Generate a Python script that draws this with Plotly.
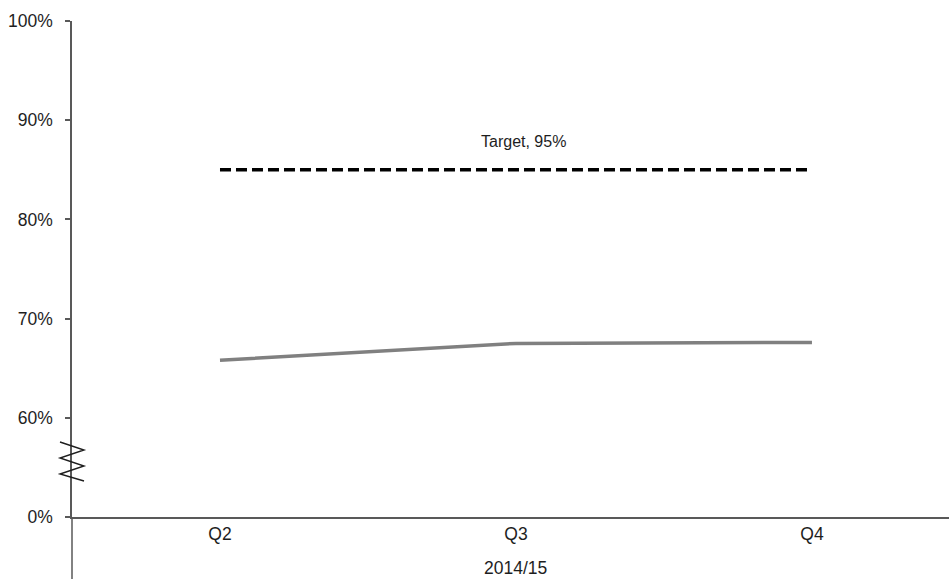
import plotly.graph_objects as go

# Quarterly performance, 2014/15
quarters = ["Q2", "Q3", "Q4"]
performance = [65.8, 67.5, 67.6]
target_level = [85, 85, 85]
target_label = "Target, 95%"
period_label = "2014/15"

# Broken value axis: the bottom tick stands for 0%
tick_vals = [50, 60, 70, 80, 90, 100]
tick_text = ["0%", "60%", "70%", "80%", "90%", "100%"]

FONT = "Liberation Sans, Arial, sans-serif"
TEXT = "#1e1e1e"
AXIS = "#595959"

fig = go.Figure()

fig.add_trace(go.Scatter(
    x=quarters, y=target_level, mode="lines",
    line=dict(color="#000000", width=3.5, dash="11px,5px"),
    hoverinfo="skip", showlegend=False,
))

fig.add_trace(go.Scatter(
    x=quarters, y=performance, mode="lines",
    line=dict(color="#808080", width=3.5),
    showlegend=False,
))

fig.add_annotation(
    x=quarters[1], y=target_level[1], xref="x", yref="y",
    text=target_label, showarrow=False,
    xshift=8, yshift=28, yanchor="middle",
    font=dict(family=FONT, size=16, color=TEXT),
)

fig.add_annotation(
    x=quarters[1], y=0, xref="x", yref="paper",
    text=period_label, showarrow=False,
    yshift=-51, yanchor="middle",
    font=dict(family=FONT, size=17.5, color=TEXT),
)

# Vertical axis continues below the category axis
fig.add_shape(
    type="line", xref="paper", yref="paper",
    x0=0, x1=0, y0=0, y1=-0.14,
    line=dict(color=AXIS, width=1.5),
)

# Zigzag marking the axis break
fig.add_shape(
    type="path", xref="paper", yref="paper",
    xsizemode="pixel", ysizemode="pixel", xanchor=0, yanchor=0,
    path="M -12,75 L 12,67 L -12,59 L 12,51 L -12,43 L 12,36",
    line=dict(color="#1e1e1e", width=1.4),
)

fig.update_xaxes(
    range=[-0.5, 2.463],
    showline=True, linecolor=AXIS, linewidth=1.5,
    showgrid=False, zeroline=False, ticks="",
    tickfont=dict(family=FONT, size=17.5, color=TEXT),
)

fig.update_yaxes(
    range=[50, 100],
    tickvals=tick_vals, ticktext=tick_text,
    showline=True, linecolor=AXIS, linewidth=1.5,
    ticks="outside", ticklen=5, tickcolor=AXIS, tickwidth=1.5,
    ticklabelstandoff=9,
    showgrid=False, zeroline=False,
    tickfont=dict(family=FONT, size=17.5, color=TEXT),
)

fig.update_layout(
    width=949, height=579,
    margin=dict(l=72, r=0, t=21, b=62),
    paper_bgcolor="white", plot_bgcolor="white",
    showlegend=False,
)

fig.write_html("out.html")
